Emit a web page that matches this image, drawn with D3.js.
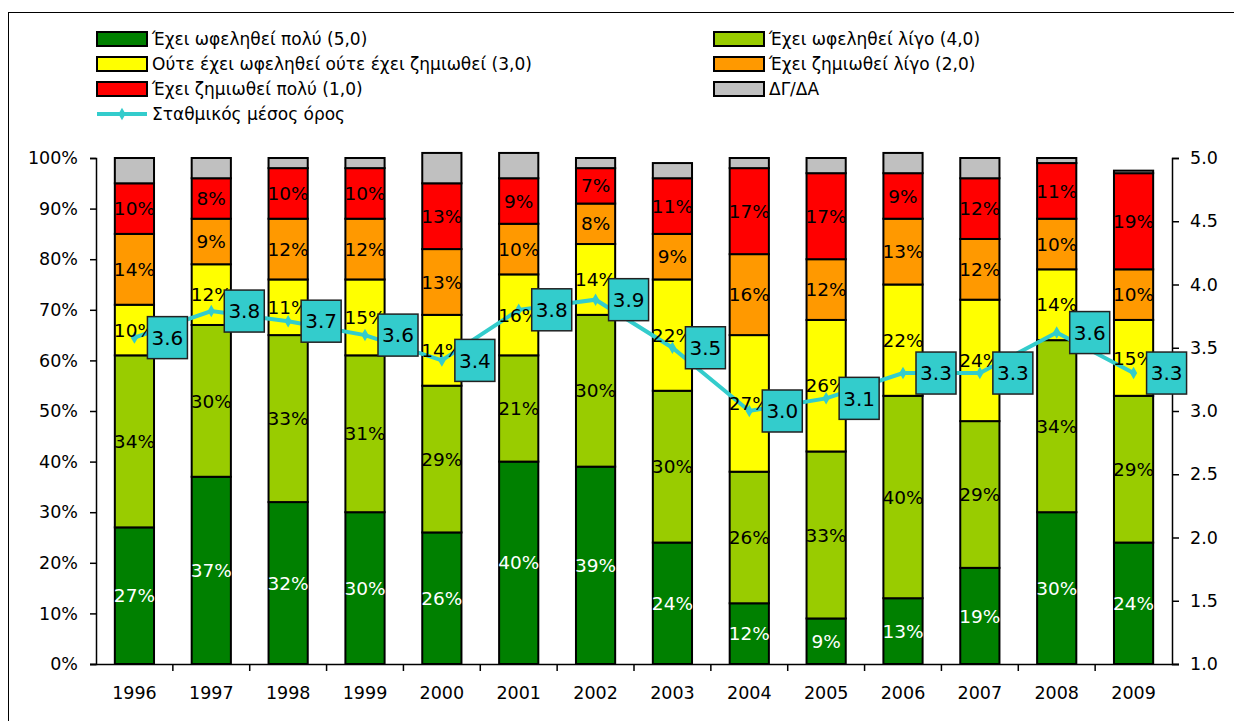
<!DOCTYPE html>
<html>
<head>
<meta charset="utf-8">
<script src="https://cdn.jsdelivr.net/npm/d3@7"></script>
<style>
  body { margin: 0; background: #fff; }
  svg { display: block; font-family: "DejaVu Sans", Verdana, sans-serif; }
</style>
</head>
<body>
<div id="chart"></div>
<script>
(function(d3) {
  'use strict';

  // data
  var years = ['1996', '1997', '1998', '1999', '2000', '2001', '2002', '2003', '2004', '2005', '2006', '2007', '2008', '2009'];
  var muchBenefit = [27, 37, 32, 30, 26, 40, 39, 24, 12, 9, 13, 19, 30, 24];
  var littleBenefit = [34, 30, 33, 31, 29, 21, 30, 30, 26, 33, 40, 29, 34, 29];
  var neither = [10, 12, 11, 15, 14, 16, 14, 22, 27, 26, 22, 24, 14, 15];
  var littleHarm = [14, 9, 12, 12, 13, 10, 8, 9, 16, 12, 13, 12, 10, 10];
  var muchHarm = [10, 8, 10, 10, 13, 9, 7, 11, 17, 17, 9, 12, 11, 19];
  var dontKnow = [5, 4, 2, 2, 6, 5, 2, 3, 2, 3, 4, 4, 1, 0.5];
  var weightedMean = [3.58, 3.79, 3.71, 3.6, 3.4, 3.8, 3.88, 3.5, 3.0, 3.1, 3.3, 3.3, 3.62, 3.3];
  var meanLabels = ['3.6', '3.8', '3.7', '3.6', '3.4', '3.8', '3.9', '3.5', '3.0', '3.1', '3.3', '3.3', '3.6', '3.3'];
  var leftTicks = [0, 10, 20, 30, 40, 50, 60, 70, 80, 90, 100];
  var rightTicks = [1.0, 1.5, 2.0, 2.5, 3.0, 3.5, 4.0, 4.5, 5.0];

  var seriesNames = [
    'Έχει ωφεληθεί πολύ (5,0)',
    'Έχει ωφεληθεί λίγο (4,0)',
    'Ούτε έχει ωφεληθεί ούτε έχει ζημιωθεί (3,0)',
    'Έχει ζημιωθεί λίγο (2,0)',
    'Έχει ζημιωθεί πολύ (1,0)',
    'ΔΓ/ΔΑ'
  ];
  var lineName = 'Σταθμικός μέσος όρος';
  var colors = ['#008000', '#99CC00', '#FFFF00', '#FF9900', '#FF0000', '#C0C0C0'];
  var lineColor = '#33CCCC';

  var series = [muchBenefit, littleBenefit, neither, littleHarm, muchHarm, dontKnow];
  var rows = years.map(function(y, i) {
    var r = {year: y};
    series.forEach(function(s, k) { r['s' + k] = s[i]; });
    return r;
  });
  var keys = series.map(function(s, k) { return 's' + k; });
  var stacked = d3.stack().keys(keys)(rows);

  var W = 1234, H = 721;
  var margin = {left: 96, right: 62, top: 158, bottom: 57};

  var svg = d3.select('#chart').append('svg')
    .attr('width', W)
    .attr('height', H);

  // outer frame
  svg.append('rect')
    .attr('x', 8.5).attr('y', 12.5)
    .attr('width', 1240).attr('height', 720)
    .attr('fill', 'none').attr('stroke', '#000').attr('stroke-width', 1);

  var x = d3.scaleBand()
    .domain(years)
    .range([margin.left, W - margin.right])
    .paddingInner(0.49)
    .paddingOuter(0.245);

  var y = d3.scaleLinear()
    .domain([0, 100])
    .range([H - margin.bottom, margin.top]);

  var y2 = d3.scaleLinear()
    .domain([1, 5])
    .range([H - margin.bottom, margin.top]);

  // bars
  var layers = svg.append('g').selectAll('g')
    .data(stacked)
    .join('g')
    .attr('fill', function(d, k) { return colors[k]; });

  layers.selectAll('rect')
    .data(function(d) { return d; })
    .join('rect')
    .attr('x', function(d) { return x(d.data.year); })
    .attr('y', function(d) { return y(d[1]); })
    .attr('width', x.bandwidth())
    .attr('height', function(d) { return y(d[0]) - y(d[1]); })
    .attr('stroke', '#000')
    .attr('stroke-width', 2);

  // axes
  var leftAxis = d3.axisLeft(y)
    .tickValues(leftTicks)
    .tickFormat(function(d) { return d + '%'; })
    .tickSize(6)
    .tickPadding(12);
  var gl = svg.append('g')
    .attr('transform', 'translate(' + margin.left + ',0)')
    .call(leftAxis);

  var rightAxis = d3.axisRight(y2)
    .tickValues(rightTicks)
    .tickFormat(d3.format('.1f'))
    .tickSize(7)
    .tickPadding(11);
  var gr = svg.append('g')
    .attr('transform', 'translate(' + (W - margin.right) + ',0)')
    .call(rightAxis);

  var bottomAxis = d3.axisBottom(x)
    .tickSize(0)
    .tickPadding(23);
  var gb = svg.append('g')
    .attr('transform', 'translate(0,' + (H - margin.bottom) + ')')
    .call(bottomAxis);

  // ticks between categories
  var step = x.step();
  gb.selectAll('.sep')
    .data(years.slice(1))
    .join('line')
    .attr('class', 'sep')
    .attr('x1', function(d) { return x(d) - (step - x.bandwidth()) / 2; })
    .attr('x2', function(d) { return x(d) - (step - x.bandwidth()) / 2; })
    .attr('y1', 0)
    .attr('y2', 7)
    .attr('stroke', '#000');

  [gl, gr, gb].forEach(function(g) {
    g.selectAll('path').attr('stroke', '#000').attr('stroke-width', 1.5);
    g.selectAll('line').attr('stroke', '#000').attr('stroke-width', 1.5);
    g.selectAll('text').attr('font-size', 17.5).attr('fill', '#000')
      .attr('font-family', '"DejaVu Sans", Verdana, sans-serif');
  });
  gb.select('.domain').attr('d', 'M' + (margin.left - 6) + ',0.5H' + (W - margin.right + 7));

  // weighted mean line
  var cx = function(i) { return x(years[i]) + x.bandwidth() / 2; };
  var line = d3.line()
    .x(function(d, i) { return cx(i); })
    .y(function(d) { return y2(d); });

  svg.append('path')
    .datum(weightedMean)
    .attr('d', line)
    .attr('fill', 'none')
    .attr('stroke', lineColor)
    .attr('stroke-width', 4);

  svg.append('g').selectAll('path')
    .data(weightedMean)
    .join('path')
    .attr('d', d3.symbol(d3.symbolDiamond, 45))
    .attr('transform', function(d, i) { return 'translate(' + cx(i) + ',' + y2(d) + ')'; })
    .attr('fill', lineColor);

  // percentage labels
  var labelLayers = svg.append('g').selectAll('g')
    .data(stacked.slice(0, 5))
    .join('g')
    .attr('fill', function(d, k) { return k === 0 ? '#fff' : '#000'; });

  labelLayers.selectAll('text')
    .data(function(d) { return d; })
    .join('text')
    .attr('x', function(d) { return x(d.data.year) + x.bandwidth() / 2; })
    .attr('y', function(d) { return (y(d[0]) + y(d[1])) / 2; })
    .attr('dy', '0.36em')
    .attr('text-anchor', 'middle')
    .attr('font-size', 18.5)
    .text(function(d) { return Math.round(d[1] - d[0]) + '%'; });

  // mean value boxes
  var boxes = svg.append('g').selectAll('g')
    .data(weightedMean)
    .join('g')
    .attr('transform', function(d, i) { return 'translate(' + (cx(i) + 13) + ',' + y2(d) + ')'; });

  boxes.append('rect')
    .attr('x', 0).attr('y', -21)
    .attr('width', 40).attr('height', 42)
    .attr('fill', lineColor)
    .attr('stroke', '#222')
    .attr('stroke-width', 1.5);

  boxes.append('text')
    .attr('x', 20)
    .attr('dy', '0.36em')
    .attr('text-anchor', 'middle')
    .attr('font-size', 20)
    .attr('fill', '#000')
    .text(function(d, i) { return meanLabels[i]; });

  // legend
  var legendItems = [
    {name: seriesNames[0], color: colors[0], col: 0, row: 0},
    {name: seriesNames[1], color: colors[1], col: 1, row: 0},
    {name: seriesNames[2], color: colors[2], col: 0, row: 1},
    {name: seriesNames[3], color: colors[3], col: 1, row: 1},
    {name: seriesNames[4], color: colors[4], col: 0, row: 2},
    {name: seriesNames[5], color: colors[5], col: 1, row: 2},
    {name: lineName, color: lineColor, col: 0, row: 3, line: true}
  ];
  var colX = [97, 714];
  var legend = svg.append('g').selectAll('g')
    .data(legendItems)
    .join('g')
    .attr('transform', function(d) { return 'translate(' + colX[d.col] + ',' + (39 + d.row * 25) + ')'; });

  legend.filter(function(d) { return !d.line; })
    .append('rect')
    .attr('x', 0).attr('y', -7)
    .attr('width', 50).attr('height', 14)
    .attr('fill', function(d) { return d.color; })
    .attr('stroke', '#000')
    .attr('stroke-width', 2);

  var ll = legend.filter(function(d) { return d.line; });
  ll.append('line')
    .attr('x1', 0).attr('x2', 50)
    .attr('y1', 0).attr('y2', 0)
    .attr('stroke', lineColor)
    .attr('stroke-width', 4);
  ll.append('path')
    .attr('d', d3.symbol(d3.symbolDiamond, 45))
    .attr('transform', 'translate(25,0)')
    .attr('fill', lineColor);

  legend.append('text')
    .attr('x', 55)
    .attr('dy', '0.36em')
    .attr('font-size', 17)
    .attr('fill', '#000')
    .text(function(d) { return d.name; });
})(window.d3);
</script>
</body>
</html>
